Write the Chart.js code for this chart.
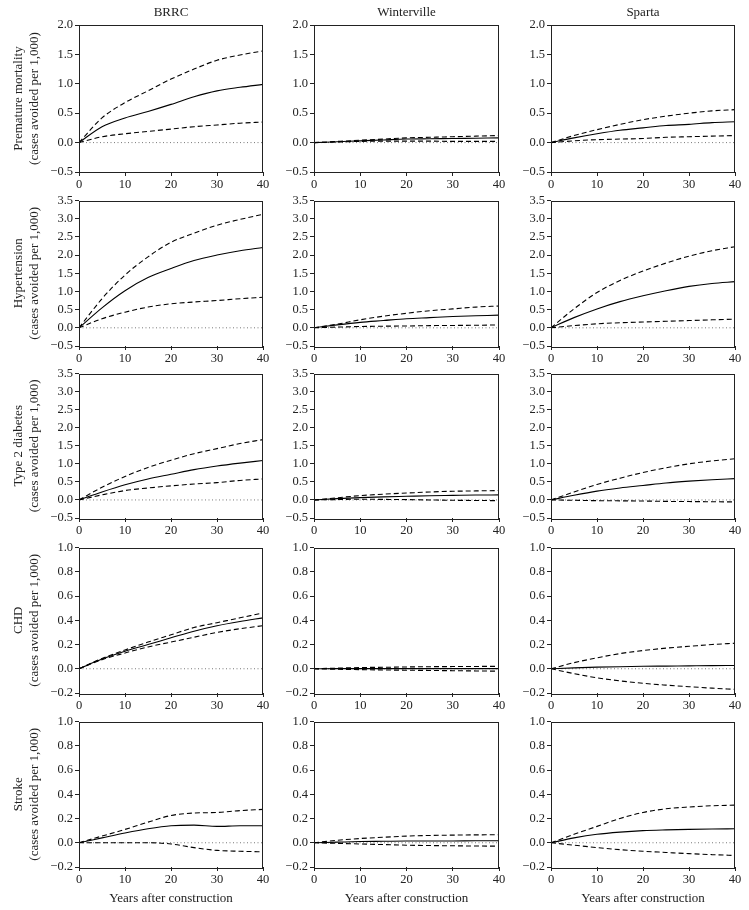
<!DOCTYPE html>
<html>
<head>
<meta charset="utf-8">
<script src="https://cdn.jsdelivr.net/npm/chart.js@4.4.0/dist/chart.umd.min.js"></script>
<style>
body { margin: 0; background: #fff; }
#contenedor { position: relative; width: 749px; height: 910px; overflow: hidden; }
#contenedor canvas { position: absolute; }
</style>
</head>
<body>
<div id="contenedor"></div>
<script>
// años después de la construcción
const anios = [0, 5, 10, 15, 20, 25, 30, 35, 40];
const lugares = ['BRRC', 'Winterville', 'Sparta'];
const resultados = [
    ['Premature mortality', '(cases avoided per 1,000)'],
    ['Hypertension', '(cases avoided per 1,000)'],
    ['Type 2 diabetes', '(cases avoided per 1,000)'],
    ['CHD', '(cases avoided per 1,000)'],
    ['Stroke', '(cases avoided per 1,000)']
];
const ejeMin = [-0.5, -0.5, -0.5, -0.2, -0.2];
const ejeMax = [2.0, 3.5, 3.5, 1.0, 1.0];
const ejePaso = [0.5, 0.5, 0.5, 0.2, 0.2];
const xTicks = [0, 10, 20, 30, 40];
const tituloX = 'Years after construction';

// mortalidad prematura
const mortBrrcSup = [0, 0.42, 0.68, 0.88, 1.08, 1.25, 1.4, 1.49, 1.56];
const mortBrrcMed = [0, 0.27, 0.42, 0.53, 0.65, 0.78, 0.88, 0.94, 0.99];
const mortBrrcInf = [0, 0.1, 0.15, 0.19, 0.23, 0.27, 0.3, 0.33, 0.35];
const mortWintSup = [0, 0.02, 0.04, 0.06, 0.08, 0.09, 0.1, 0.11, 0.12];
const mortWintMed = [0, 0.015, 0.03, 0.045, 0.06, 0.065, 0.07, 0.075, 0.08];
const mortWintInf = [0, 0.01, 0.02, 0.025, 0.025, 0.025, 0.02, 0.02, 0.02];
const mortSparSup = [0, 0.12, 0.22, 0.31, 0.39, 0.45, 0.5, 0.54, 0.56];
const mortSparMed = [0, 0.08, 0.15, 0.21, 0.25, 0.29, 0.31, 0.34, 0.355];
const mortSparInf = [0, 0.03, 0.05, 0.06, 0.07, 0.09, 0.1, 0.11, 0.12];

// hipertension
const hipBrrcSup = [0, 0.8, 1.45, 1.95, 2.35, 2.6, 2.82, 2.98, 3.12];
const hipBrrcMed = [0, 0.55, 1.02, 1.38, 1.63, 1.85, 2.0, 2.12, 2.21];
const hipBrrcInf = [0, 0.25, 0.43, 0.57, 0.66, 0.71, 0.75, 0.8, 0.84];
const hipWintSup = [0, 0.1, 0.22, 0.32, 0.4, 0.47, 0.52, 0.57, 0.6];
const hipWintMed = [0, 0.08, 0.15, 0.2, 0.25, 0.28, 0.31, 0.33, 0.35];
const hipWintInf = [0, 0.02, 0.035, 0.045, 0.05, 0.06, 0.065, 0.07, 0.08];
const hipSparSup = [0, 0.52, 0.97, 1.3, 1.56, 1.78, 1.97, 2.12, 2.23];
const hipSparMed = [0, 0.28, 0.52, 0.72, 0.88, 1.02, 1.14, 1.22, 1.27];
const hipSparInf = [0, 0.06, 0.11, 0.14, 0.16, 0.18, 0.2, 0.22, 0.24];

// diabetes tipo 2
const diaBrrcSup = [0, 0.35, 0.65, 0.9, 1.1, 1.28, 1.42, 1.56, 1.67];
const diaBrrcMed = [0, 0.22, 0.42, 0.58, 0.71, 0.84, 0.94, 1.02, 1.09];
const diaBrrcInf = [0, 0.14, 0.26, 0.33, 0.39, 0.44, 0.48, 0.54, 0.58];
const diaWintSup = [0, 0.06, 0.12, 0.16, 0.19, 0.22, 0.24, 0.25, 0.26];
const diaWintMed = [0, 0.035, 0.065, 0.085, 0.1, 0.115, 0.125, 0.135, 0.14];
const diaWintInf = [0, 0.01, 0.02, 0.015, 0.01, 0.0, -0.01, -0.015, -0.02];
const diaSparSup = [0, 0.22, 0.43, 0.6, 0.76, 0.89, 1.0, 1.08, 1.14];
const diaSparMed = [0, 0.13, 0.245, 0.33, 0.4, 0.47, 0.52, 0.56, 0.59];
const diaSparInf = [0, -0.01, -0.02, -0.025, -0.03, -0.04, -0.045, -0.05, -0.055];

// CHD
const chdBrrcSup = [0, 0.085, 0.155, 0.22, 0.28, 0.34, 0.38, 0.42, 0.46];
const chdBrrcMed = [0, 0.08, 0.145, 0.2, 0.255, 0.31, 0.355, 0.39, 0.42];
const chdBrrcInf = [0, 0.075, 0.13, 0.18, 0.22, 0.26, 0.3, 0.33, 0.355];
const chdWintSup = [0, 0.005, 0.01, 0.012, 0.015, 0.017, 0.018, 0.019, 0.02];
const chdWintMed = [0, 0.001, 0.001, 0.001, 0.001, 0.001, 0.001, 0.001, 0.001];
const chdWintInf = [0, -0.004, -0.007, -0.01, -0.012, -0.014, -0.016, -0.018, -0.02];
const chdSparSup = [0, 0.05, 0.09, 0.125, 0.15, 0.17, 0.185, 0.2, 0.21];
const chdSparMed = [0, 0.007, 0.013, 0.017, 0.02, 0.022, 0.024, 0.026, 0.027];
const chdSparInf = [0, -0.04, -0.075, -0.1, -0.12, -0.135, -0.148, -0.16, -0.17];

// accidente cerebrovascular
const strBrrcSup = [0, 0.055, 0.11, 0.17, 0.225, 0.245, 0.25, 0.265, 0.275];
const strBrrcMed = [0, 0.04, 0.08, 0.115, 0.14, 0.145, 0.135, 0.14, 0.14];
const strBrrcInf = [0, 0, 0, 0, -0.01, -0.04, -0.063, -0.07, -0.075];
const strWintSup = [0, 0.02, 0.035, 0.045, 0.055, 0.06, 0.063, 0.065, 0.066];
const strWintMed = [0, 0.005, 0.01, 0.012, 0.014, 0.015, 0.015, 0.016, 0.016];
const strWintInf = [0, -0.005, -0.01, -0.015, -0.02, -0.023, -0.025, -0.027, -0.028];
const strSparSup = [0, 0.07, 0.135, 0.2, 0.25, 0.28, 0.295, 0.305, 0.31];
const strSparMed = [0, 0.04, 0.07, 0.088, 0.1, 0.106, 0.11, 0.113, 0.115];
const strSparInf = [0, -0.02, -0.04, -0.057, -0.07, -0.08, -0.09, -0.098, -0.105];

// filas x columnas, cada una [superior, media, inferior]
const series = [
    [[mortBrrcSup, mortBrrcMed, mortBrrcInf], [mortWintSup, mortWintMed, mortWintInf], [mortSparSup, mortSparMed, mortSparInf]],
    [[hipBrrcSup, hipBrrcMed, hipBrrcInf], [hipWintSup, hipWintMed, hipWintInf], [hipSparSup, hipSparMed, hipSparInf]],
    [[diaBrrcSup, diaBrrcMed, diaBrrcInf], [diaWintSup, diaWintMed, diaWintInf], [diaSparSup, diaSparMed, diaSparInf]],
    [[chdBrrcSup, chdBrrcMed, chdBrrcInf], [chdWintSup, chdWintMed, chdWintInf], [chdSparSup, chdSparMed, chdSparInf]],
    [[strBrrcSup, strBrrcMed, strBrrcInf], [strWintSup, strWintMed, strWintInf], [strSparSup, strSparMed, strSparInf]]
];

// posiciones de las areas de dibujo
const izq = [79, 314, 551];
const der = [263, 499, 735];
const arriba = [25, 199, 372, 546, 720];
const abajo = [172, 346, 518, 693, 867];

const fuente = "'Liberation Serif', 'Times New Roman', serif";
const colorTexto = '#222';

function puntos(valores) {
    let res = [];
    for (let i = 0; i < anios.length; i++) {
        res.push({ x: anios[i], y: valores[i] });
    }
    return res;
}

function formato(v) {
    const t = Math.abs(v).toFixed(1);
    return v < -1e-9 ? '\u2212' + t : t;
}

const marco = {
    id: 'marco',
    afterDatasetsDraw(chart) {
        const a = chart.chartArea;
        const ctx = chart.ctx;
        ctx.save();
        ctx.strokeStyle = '#222';
        ctx.lineWidth = 1;
        ctx.strokeRect(Math.round(a.left) + 0.5, Math.round(a.top) + 0.5,
            Math.round(a.right - a.left) - 1, Math.round(a.bottom - a.top));
        ctx.restore();
    }
};

const contenedor = document.getElementById('contenedor');

for (let f = 0; f < 5; f++) {
    for (let c = 0; c < 3; c++) {
        const anchoY = c == 0 ? 79 : 45;
        const padTop = f == 0 ? 0 : 8;
        const altoX = f == 4 ? 42 : 22;
        const padDer = 10;
        const ancho = anchoY + (der[c] - izq[c]) + padDer;
        const sup = f == 0 ? 0 : arriba[f] - padTop;
        const alto = (abajo[f] - sup) + altoX;

        const lienzo = document.createElement('canvas');
        lienzo.width = ancho;
        lienzo.height = alto;
        lienzo.style.width = ancho + 'px';
        lienzo.style.height = alto + 'px';
        lienzo.style.left = (izq[c] - anchoY) + 'px';
        lienzo.style.top = sup + 'px';
        contenedor.appendChild(lienzo);

        const s = series[f][c];
        const datos = [
            { data: puntos(s[1]), borderColor: '#000', borderWidth: 1.1 },
            { data: puntos(s[0]), borderColor: '#000', borderWidth: 1.1, borderDash: [5, 3] },
            { data: puntos(s[2]), borderColor: '#000', borderWidth: 1.1, borderDash: [5, 3] },
            { data: [{ x: 0, y: 0 }, { x: 40, y: 0 }], borderColor: '#777', borderWidth: 1, borderDash: [1, 2.5] }
        ];
        for (let i = 0; i < datos.length; i++) {
            datos[i].pointRadius = 0;
            datos[i].fill = false;
            datos[i].cubicInterpolationMode = 'monotone';
        }

        new Chart(lienzo, {
            type: 'line',
            data: { datasets: datos },
            options: {
                responsive: false,
                animation: false,
                events: [],
                layout: { padding: { top: padTop, right: padDer, left: 0, bottom: 0 } },
                plugins: {
                    legend: { display: false },
                    tooltip: { enabled: false },
                    title: {
                        display: f == 0,
                        text: lugares[c],
                        fullSize: false,
                        color: colorTexto,
                        font: { family: fuente, size: 13, weight: 'normal', lineHeight: 1.2 },
                        padding: { top: 5, bottom: 4.4 }
                    }
                },
                scales: {
                    x: {
                        type: 'linear',
                        min: 0,
                        max: 40,
                        afterFit: function (scale) { scale.height = altoX; },
                        afterBuildTicks: function (scale) {
                            scale.ticks = xTicks.map(function (v) { return { value: v }; });
                        },
                        grid: { drawOnChartArea: false, drawTicks: true, tickLength: 4, color: '#222' },
                        border: { display: false },
                        ticks: {
                            autoSkip: false, maxRotation: 0, padding: 1,
                            color: colorTexto, font: { family: fuente, size: 12.5 }
                        },
                        title: {
                            display: f == 4,
                            text: tituloX,
                            color: colorTexto,
                            font: { family: fuente, size: 13, lineHeight: 1.2 },
                            padding: { top: 0, bottom: 3 }
                        }
                    },
                    y: {
                        min: ejeMin[f],
                        max: ejeMax[f],
                        afterFit: function (scale) { scale.width = anchoY; },
                        grid: { drawOnChartArea: false, drawTicks: true, tickLength: 4, color: '#222' },
                        border: { display: false },
                        ticks: {
                            stepSize: ejePaso[f], padding: 2,
                            color: colorTexto, font: { family: fuente, size: 12.5 },
                            callback: function (v) { return formato(v); }
                        },
                        title: {
                            display: c == 0,
                            text: resultados[f],
                            color: colorTexto,
                            font: { family: fuente, size: 13, lineHeight: 1.25 },
                            padding: { top: 10, bottom: 0 }
                        }
                    }
                }
            },
            plugins: [marco]
        });
    }
}
</script>
</body>
</html>
